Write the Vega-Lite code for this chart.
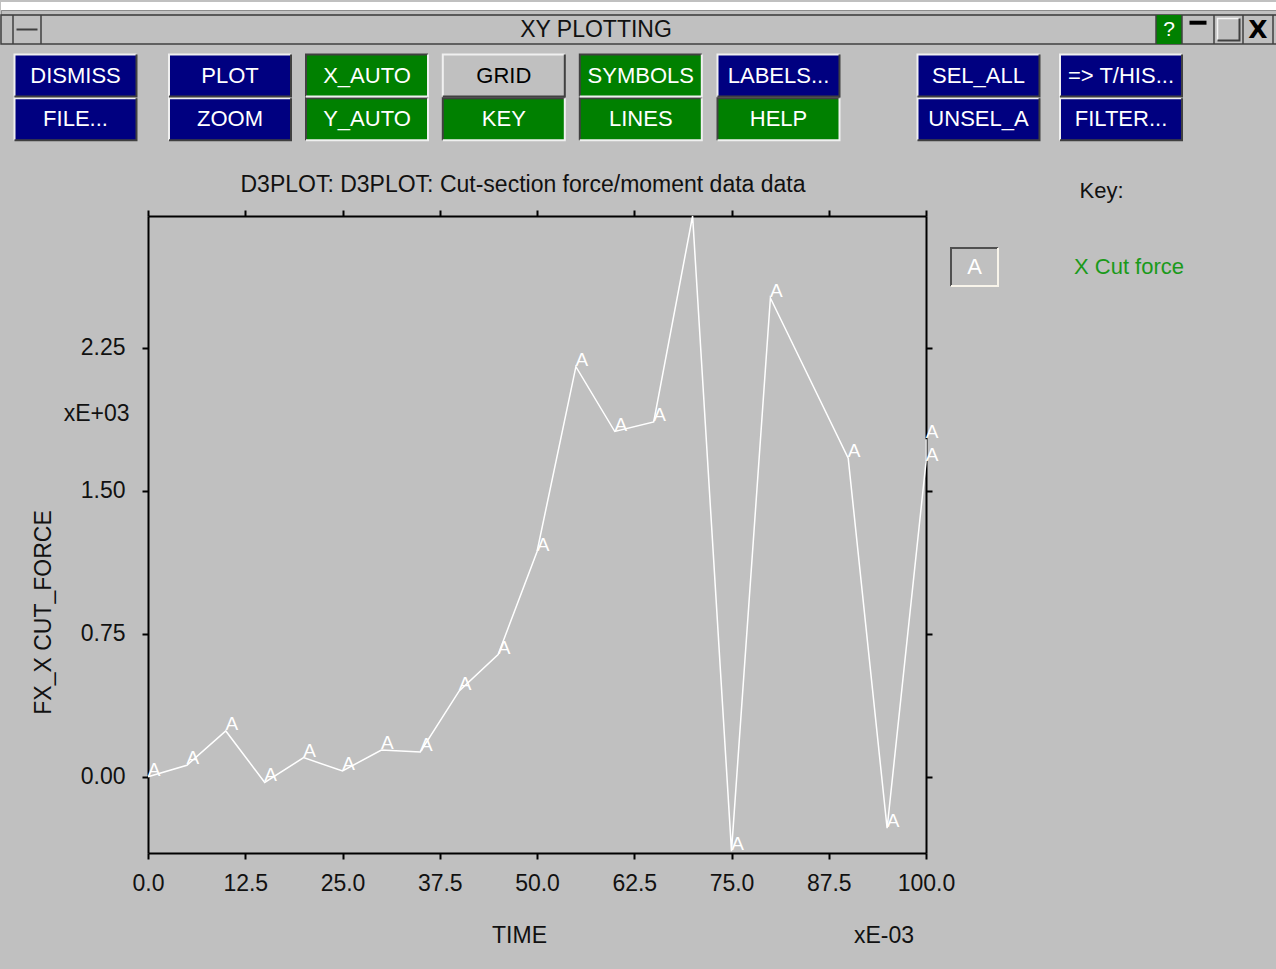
{
  "$schema": "https://vega.github.io/schema/vega-lite/v6.json",
  "padding": 0,
  "background": "#c0c0c0",
  "spacing": 0,
  "bounds": "flush",
  "config": {"view": {"stroke": null}, "font": "Liberation Sans"},
  "datasets": {
    "series": [
      {"i": 0, "t": 0, "v": 0.0},
      {"i": 1, "t": 5, "v": 0.06},
      {"i": 2, "t": 10, "v": 0.24},
      {"i": 3, "t": 15, "v": -0.03},
      {"i": 4, "t": 20, "v": 0.10},
      {"i": 5, "t": 25, "v": 0.03},
      {"i": 6, "t": 30, "v": 0.14},
      {"i": 7, "t": 35, "v": 0.13},
      {"i": 8, "t": 40, "v": 0.45},
      {"i": 9, "t": 45, "v": 0.64},
      {"i": 10, "t": 50, "v": 1.18},
      {"i": 11, "t": 55, "v": 2.15},
      {"i": 12, "t": 60, "v": 1.81},
      {"i": 13, "t": 65, "v": 1.86},
      {"i": 14, "t": 70, "v": 2.94},
      {"i": 15, "t": 75, "v": -0.39},
      {"i": 16, "t": 80, "v": 2.51},
      {"i": 17, "t": 90, "v": 1.67},
      {"i": 18, "t": 95, "v": -0.27},
      {"i": 19, "t": 100, "v": 1.65},
      {"i": 20, "t": 100, "v": 1.77}
    ],
    "buttons": [
      {"label": "DISMISS", "col": 1, "row": 1, "state": "action"},
      {"label": "FILE...", "col": 1, "row": 2, "state": "action"},
      {"label": "PLOT", "col": 2, "row": 1, "state": "action"},
      {"label": "ZOOM", "col": 2, "row": 2, "state": "action"},
      {"label": "X_AUTO", "col": 3, "row": 1, "state": "on"},
      {"label": "Y_AUTO", "col": 3, "row": 2, "state": "on"},
      {"label": "GRID", "col": 4, "row": 1, "state": "off"},
      {"label": "KEY", "col": 4, "row": 2, "state": "on"},
      {"label": "SYMBOLS", "col": 5, "row": 1, "state": "on"},
      {"label": "LINES", "col": 5, "row": 2, "state": "on"},
      {"label": "LABELS...", "col": 6, "row": 1, "state": "action"},
      {"label": "HELP", "col": 6, "row": 2, "state": "on"},
      {"label": "SEL_ALL", "col": 7, "row": 1, "state": "action"},
      {"label": "UNSEL_A", "col": 7, "row": 2, "state": "action"},
      {"label": "=> T/HIS...", "col": 8, "row": 1, "state": "action"},
      {"label": "FILTER...", "col": 8, "row": 2, "state": "action"}
    ],
    "titlebar": [
      {"part": "menu", "k": 0, "label": ""},
      {"part": "title", "k": 1, "label": "XY PLOTTING"},
      {"part": "help", "k": 2, "label": "?"},
      {"part": "min", "k": 3, "label": ""},
      {"part": "max", "k": 4, "label": ""},
      {"part": "close", "k": 5, "label": "X"}
    ],
    "titleedges": [{"e": 0}, {"e": 1}, {"e": 2}, {"e": 3}, {"e": 4}, {"e": 5}, {"e": 6}]
  },
  "vconcat": [
    {
      "width": 1276, "height": 8,
      "data": {"values": [{"t": ""}]},
      "mark": "text",
      "encoding": {"text": {"field": "t"}},
      "view": {"fill": "#ffffff", "stroke": null}
    },
    {
      "width": 1276, "height": 4.5,
      "data": {"values": [{"t": ""}]},
      "mark": "text",
      "encoding": {"text": {"field": "t"}},
      "view": {"stroke": "#8c8c8c", "strokeWidth": 1}
    },
    {
      "width": 1276, "height": 29,
      "data": {"name": "titlebar"},
      "view": {"stroke": "#404040", "strokeWidth": 1.5},
      "encoding": {
        "x": {"field": "k", "type": "quantitative", "scale": {"domain": [0, 1, 2, 3, 4, 5], "range": [26, 595, 1168, 1197, 1227.5, 1257], "nice": false, "zero": false}, "axis": null}
      },
      "layer": [
        {
          "transform": [{"filter": "datum.part === 'help'"}],
          "mark": {"type": "point", "shape": "M-1,-1.115H1V1.115H-1Z", "size": 676, "filled": true, "opacity": 1, "fill": "#008000", "strokeWidth": 0}
        },
        {
          "data": {"name": "titleedges"},
          "mark": {"type": "rule", "color": "#404040", "strokeWidth": 1.5},
          "encoding": {
            "x": {"field": "e", "type": "quantitative", "scale": {"domain": [0, 1, 2, 3, 4, 5, 6], "range": [12, 40, 1155, 1181, 1213, 1242, 1272], "nice": false, "zero": false}, "axis": null}
          }
        },
        {
          "transform": [{"filter": "datum.part === 'menu'"}],
          "mark": {"type": "point", "shape": "M-1,0H1", "size": 441, "filled": false, "opacity": 1, "stroke": "#404040", "strokeWidth": 2}
        },
        {
          "transform": [{"filter": "datum.part === 'min'"}],
          "mark": {"type": "point", "shape": "M-1,-0.8H1", "size": 289, "filled": false, "opacity": 1, "stroke": "#000000", "strokeWidth": 4}
        },
        {
          "transform": [{"filter": "datum.part === 'max'"}],
          "mark": {"type": "point", "shape": "M-1,1V-1H1", "size": 484, "filled": false, "opacity": 1, "stroke": "#f4f4f4", "strokeWidth": 1.5}
        },
        {
          "transform": [{"filter": "datum.part === 'max'"}],
          "mark": {"type": "point", "shape": "M1,-1V1H-1", "size": 484, "filled": false, "opacity": 1, "stroke": "#404040", "strokeWidth": 2}
        },
        {
          "transform": [{"filter": "datum.part === 'title'"}],
          "mark": {"type": "text", "fontSize": 23, "color": "#111111", "baseline": "middle", "align": "center"},
          "encoding": {"text": {"field": "label"}}
        },
        {
          "transform": [{"filter": "datum.part === 'help'"}],
          "mark": {"type": "text", "fontSize": 21, "color": "#ffffff", "baseline": "middle", "align": "center"},
          "encoding": {"text": {"field": "label"}}
        },
        {
          "transform": [{"filter": "datum.part === 'close'"}],
          "mark": {"type": "text", "font": "DejaVu Sans", "fontWeight": "bold", "fontSize": 25, "color": "#000000", "baseline": "middle", "align": "center"},
          "encoding": {"text": {"field": "label"}}
        }
      ],
      "resolve": {"scale": {"x": "independent"}}
    },
    {
      "width": 1276, "height": 171.5,
      "data": {"name": "buttons"},
      "encoding": {
        "x": {"field": "col", "type": "quantitative", "scale": {"domain": [1, 2, 3, 4, 5, 6, 7, 8], "range": [74.5, 229, 366, 502.8, 639.8, 777.5, 977.5, 1120], "nice": false, "zero": false}, "axis": null},
        "y": {"field": "row", "type": "quantitative", "scale": {"domain": [1, 2], "range": [31.5, 75.2], "nice": false, "zero": false}, "axis": null}
      },
      "layer": [
        {
          "mark": {"type": "point", "shape": "M-1,-0.344H1V0.344H-1Z", "size": 14884, "filled": true, "opacity": 1, "strokeWidth": 0},
          "encoding": {"fill": {"field": "state", "type": "nominal", "scale": {"domain": ["action", "on", "off"], "range": ["#000080", "#008000", "#c0c0c0"]}, "legend": null}}
        },
        {
          "mark": {"type": "point", "shape": "M-1,0.344V-0.344H1", "size": 14884, "filled": false, "opacity": 1, "strokeWidth": 2},
          "encoding": {"stroke": {"condition": {"test": "datum.state === 'on'", "value": "#404040"}, "value": "#f0f0f0"}}
        },
        {
          "mark": {"type": "point", "shape": "M1,-0.344V0.344H-1", "size": 14884, "filled": false, "opacity": 1, "strokeWidth": 2},
          "encoding": {"stroke": {"condition": {"test": "datum.state === 'on'", "value": "#f0f0f0"}, "value": "#404040"}}
        },
        {
          "mark": {"type": "text", "fontSize": 22, "baseline": "middle", "align": "center"},
          "encoding": {
            "text": {"field": "label"},
            "color": {"condition": {"test": "datum.state === 'off'", "value": "#000000"}, "value": "#ffffff"}
          }
        }
      ]
    },
    {
      "hconcat": [
        {
          "width": 147, "height": 756,
          "data": {"values": [{"t": ""}]},
          "mark": "text",
          "encoding": {"text": {"field": "t"}}
        },
        {
          "width": 778, "height": 637,
          "data": {"name": "series"},
          "title": {"text": "D3PLOT: D3PLOT: Cut-section force/moment data data", "fontSize": 23, "fontWeight": "normal", "font": "Liberation Sans", "color": "#111111", "anchor": "middle", "offset": 12, "dx": -14},
          "layer": [
            {
              "mark": {"type": "line", "color": "#ffffff", "strokeWidth": 1.5},
              "encoding": {
                "x": {
                  "field": "t", "type": "quantitative",
                  "scale": {"domain": [0, 100], "nice": false, "zero": false},
                  "axis": {
                    "orient": "bottom",
                    "values": [0, 12.5, 25, 37.5, 50, 62.5, 75, 87.5, 100, 94.54],
                    "labelExpr": "datum.value > 94 && datum.value < 95 ? 'xE-03' : format(datum.value, '.1f')",
                    "labelOverlap": false, "labelFlush": false,
                    "labelPadding": {"condition": {"test": "datum.value > 94 && datum.value < 95", "value": 65}, "value": 13},
                    "tickColor": {"condition": {"test": "datum.value > 94 && datum.value < 95", "value": "transparent"}, "value": "#000000"},
                    "tickSize": 6, "tickWidth": 2, "domainColor": "#000000", "domainWidth": 2,
                    "labelFontSize": 23, "labelColor": "#111111",
                    "grid": false,
                    "title": "TIME", "titleX": 371, "titleY": 82, "titleBaseline": "middle", "titleAlign": "center",
                    "titleFontSize": 23, "titleFontWeight": "normal", "titleColor": "#111111"
                  }
                },
                "y": {
                  "field": "v", "type": "quantitative",
                  "scale": {"domain": [-0.4, 2.94], "nice": false, "zero": false},
                  "axis": {
                    "orient": "left",
                    "values": [0, 0.75, 1.5, 2.25, 1.903],
                    "labelExpr": "datum.value > 1.8 && datum.value < 2 ? 'xE+03' : format(datum.value, '.2f')",
                    "labelOverlap": false, "labelFlush": false,
                    "labelPadding": {"condition": {"test": "datum.value > 1.8 && datum.value < 2", "value": 13}, "value": 17},
                    "tickColor": {"condition": {"test": "datum.value > 1.8 && datum.value < 2", "value": "transparent"}, "value": "#000000"},
                    "tickSize": 6, "tickWidth": 2, "domainColor": "#000000", "domainWidth": 2,
                    "labelFontSize": 23, "labelColor": "#111111",
                    "grid": false,
                    "title": "FX_X CUT_FORCE", "titleX": -105, "titleY": 396, "titleAngle": 270, "titleBaseline": "middle", "titleAlign": "center",
                    "titleFontSize": 23, "titleFontWeight": "normal", "titleColor": "#111111"
                  }
                },
                "order": {"field": "i", "type": "quantitative"}
              }
            },
            {
              "transform": [{"filter": "datum.v < 2.94"}],
              "mark": {"type": "text", "text": "A", "color": "#ffffff", "fontSize": 19, "dx": 6, "dy": -7, "baseline": "middle", "align": "center"},
              "encoding": {
                "x": {
                  "field": "t", "type": "quantitative",
                  "axis": {"orient": "top", "values": [0, 12.5, 25, 37.5, 50, 62.5, 75, 87.5, 100], "labels": false, "title": null, "grid": false,
                    "tickSize": 6, "tickWidth": 2, "tickColor": "#000000", "domainColor": "#000000", "domainWidth": 2}
                },
                "y": {
                  "field": "v", "type": "quantitative",
                  "axis": {"orient": "right", "values": [0, 0.75, 1.5, 2.25], "labels": false, "title": null, "grid": false,
                    "tickSize": 6, "tickWidth": 2, "tickColor": "#000000", "domainColor": "#000000", "domainWidth": 2}
                }
              }
            }
          ],
          "resolve": {"axis": {"x": "independent", "y": "independent"}}
        },
        {
          "width": 351, "height": 102,
          "data": {"values": [{"col": "sym", "text": "A"}, {"col": "name", "text": "X Cut force"}]},
          "title": {"text": "Key:", "fontSize": 22, "fontWeight": "normal", "font": "Liberation Sans", "color": "#111111", "anchor": "middle", "offset": 13},
          "encoding": {
            "x": {"field": "col", "type": "nominal", "scale": {"type": "point", "domain": ["sym", "name"], "range": [48.5, 203], "padding": 0}, "axis": null}
          },
          "layer": [
            {
              "transform": [{"filter": "datum.col === 'sym'"}],
              "mark": {"type": "point", "shape": "M-1,0.81V-0.81H1", "size": 2209, "filled": false, "opacity": 1, "stroke": "#505050", "strokeWidth": 2}
            },
            {
              "transform": [{"filter": "datum.col === 'sym'"}],
              "mark": {"type": "point", "shape": "M1,-0.81V0.81H-1", "size": 2209, "filled": false, "opacity": 1, "stroke": "#f8f4ea", "strokeWidth": 2}
            },
            {
              "mark": {"type": "text", "baseline": "middle", "align": "center", "fontSize": 22},
              "encoding": {
                "text": {"field": "text"},
                "color": {"condition": {"test": "datum.col === 'sym'", "value": "#ffffff"}, "value": "#1a9a1a"}
              }
            }
          ]
        }
      ],
      "spacing": 0,
      "bounds": "flush"
    }
  ]
}
